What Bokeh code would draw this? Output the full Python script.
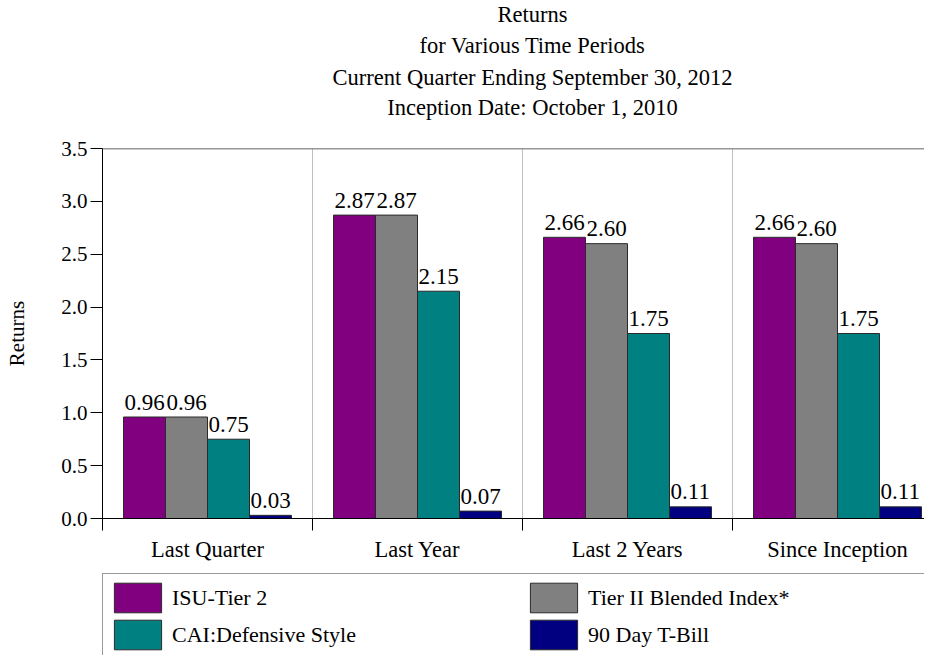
from bokeh.plotting import figure
from bokeh.layouts import column
from bokeh.models import (Range1d, FixedTicker, Span, Label, Legend, LegendItem,
                          ColumnDataSource, NumeralTickFormatter)
from bokeh.core.properties import value
from bokeh.embed import file_html
from bokeh.resources import INLINE

periods = ["Last Quarter", "Last Year", "Last 2 Years", "Since Inception"]
series_names = ["ISU-Tier 2", "Tier II Blended Index*", "CAI:Defensive Style", "90 Day T-Bill"]
isu_tier2 = [0.96, 2.87, 2.66, 2.66]
tier2_blended = [0.96, 2.87, 2.60, 2.60]
cai_defensive = [0.75, 2.15, 1.75, 1.75]
tbill_90 = [0.03, 0.07, 0.11, 0.11]
colors = ["#800080", "#808080", "#008080", "#000080"]
title_lines = ["Returns", "for Various Time Periods",
               "Current Quarter Ending September 30, 2012",
               "Inception Date: October 1, 2010"]
y_ticks = [0.0, 0.5, 1.0, 1.5, 2.0, 2.5, 3.0, 3.5]

FONT = "Liberation Serif"
series = [isu_tier2, tier2_blended, cai_defensive, tbill_90]
n = len(periods)
bar_w = 0.2
W = 924
LEFT = 102
GROUP_PX = 210


def bare_figure(h, xr, yr):
    f = figure(width=W, height=h, output_backend="svg", toolbar_location=None,
               x_range=xr, y_range=yr,
               x_axis_location=None, y_axis_location=None,
               min_border_left=LEFT, min_border_right=0, min_border_top=0, min_border_bottom=0)
    f.outline_line_color = None
    f.xgrid.grid_line_color = None
    f.ygrid.grid_line_color = None
    f.background_fill_color = "white"
    f.border_fill_color = "white"
    return f


# ---- title block (data units = pixels of the figure) ----
TH = 132
pt = bare_figure(TH, Range1d(LEFT, W), Range1d(TH, 0))
title_baselines = [14, 45, 77, 107]
for line, yb in zip(title_lines, title_baselines):
    pt.add_layout(Label(x=532, y=yb, text=line, text_align="center",
                        text_baseline="alphabetic", text_font=FONT,
                        text_font_size="22.5px", text_color="black"))

# ---- main chart ----
MH = 440
p = figure(width=W, height=MH, output_backend="svg", toolbar_location=None,
           x_range=Range1d(0, (W - LEFT) / GROUP_PX), y_range=Range1d(0, 3.5),
           min_border_left=LEFT, min_border_right=0, min_border_top=16, min_border_bottom=54)
p.background_fill_color = "white"
p.border_fill_color = "white"
p.outline_line_color = None

for j, vals in enumerate(series):
    xs = [i + 0.2 + bar_w * j for i in range(n)]
    lefts = [i + 0.1 + bar_w * j for i in range(n)]
    src = ColumnDataSource(dict(x=xs, left=lefts, top=vals,
                                lbl=["%.2f" % v for v in vals]))
    p.vbar(x="x", top="top", width=bar_w, bottom=0, source=src,
           fill_color=colors[j], line_color="#2a2a2a", line_width=1)
    p.text(x="left", y="top", text="lbl", source=src, text_font=value(FONT),
           text_font_size="23px", text_align="left", text_baseline="alphabetic",
           x_offset=1, y_offset=-15, text_color="black")

p.add_layout(Span(location=3.5, dimension="width", line_color="#333333", line_width=1.5))

xa = p.xaxis[0]
xa.ticker = FixedTicker(ticks=[i + 0.5 for i in range(n)], minor_ticks=list(range(n)))
xa.major_label_overrides = {i + 0.5: periods[i] for i in range(n)}
xa.major_tick_line_color = None
xa.major_tick_out = 0
xa.major_tick_in = 0
xa.minor_tick_line_color = "black"
xa.minor_tick_out = 12
xa.minor_tick_in = 0
xa.axis_line_color = "black"
xa.major_label_text_font = FONT
xa.major_label_text_font_size = "22.5px"
xa.major_label_text_color = "black"
xa.major_label_standoff = 6

ya = p.yaxis[0]
ya.ticker = FixedTicker(ticks=y_ticks, minor_ticks=[])
ya.formatter = NumeralTickFormatter(format="0.0")
ya.major_tick_out = 12
ya.major_tick_in = 0
ya.major_tick_line_color = "black"
ya.axis_line_color = "black"
ya.major_label_text_font = FONT
ya.major_label_text_font_size = "21px"
ya.major_label_text_color = "black"
ya.major_label_standoff = 3
ya.axis_label = "Returns"
ya.axis_label_text_font = FONT
ya.axis_label_text_font_size = "21px"
ya.axis_label_text_font_style = "normal"
ya.axis_label_text_color = "black"
ya.axis_label_standoff = 29

p.xgrid.ticker = FixedTicker(ticks=[1, 2, 3])
p.xgrid.grid_line_color = "#c0c0c0"
p.ygrid.grid_line_color = None

# ---- legend block (box runs past the bottom edge, as in the source) ----
LH = 83
pl = bare_figure(LH, Range1d(0, 1), Range1d(0, 1))
swatches = []
for k, vals in enumerate(series):
    r = pl.vbar(x=list(range(n)), top=vals, width=0.5, fill_color=colors[k],
                line_color="#2a2a2a", visible=False)
    swatches.append(r)
items = [LegendItem(label=series_names[k], renderers=[swatches[k]]) for k in range(4)]
legend = Legend(items=items, orientation="horizontal", ncols=2,
                location=(0, -4), glyph_width=59, glyph_height=37,
                label_standoff=5, label_width=352, spacing=0, padding=5,
                margin=0, label_text_font=FONT, label_text_font_size="22px",
                label_text_color="black", border_line_color="#333333",
                border_line_width=1, background_fill_color="white",
                background_fill_alpha=1.0, inactive_fill_alpha=0.0)
pl.add_layout(legend, "center")

layout = column(pt, p, pl, spacing=0)
open("out.html", "w").write(file_html(layout, INLINE))
